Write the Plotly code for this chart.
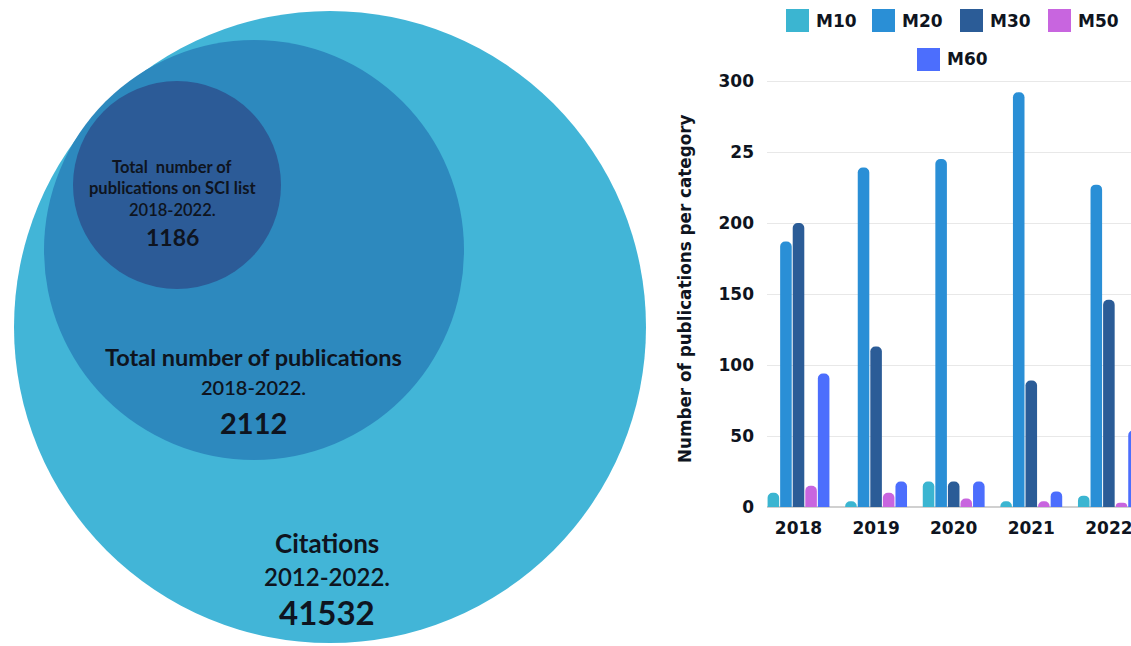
import plotly.graph_objects as go

# ---------------- data ----------------
years = ["2018", "2019", "2020", "2021", "2022"]
series_names = ["M10", "M20", "M30", "M50", "M60"]
m10 = [10, 4, 18, 4, 8]
m20 = [187, 239, 245, 292, 227]
m30 = [200, 113, 18, 89, 146]
m50 = [15, 10, 6, 4, 3]
m60 = [94, 18, 18, 11, 54]
series_values = [m10, m20, m30, m50, m60]
series_colors = ["#3BB5D1", "#2A8FD6", "#2B5C97", "#C865DF", "#4C6EFD"]

y_tickvals = [0, 50, 100, 150, 200, 250, 300]
y_ticktext = ["0", "50", "100", "150", "200", "25", "300"]
y_title = "Number of publications per category"

circle_labels = [
    ["Citations", "2012-2022."],
    ["Total number of publications", "2018-2022."],
    ["Total  number of", "publications on SCI list", "2018-2022."],
]
circle_values = ["41532", "2112", "1186"]
circle_colors = ["#42B5D7", "#2D89BE", "#2C5B97"]

# ---------------- figure ----------------
W, H = 1131, 646
TXT = "#0e1420"


def px(x):
    return x / W


def py(y):
    return 1 - y / H


fig = go.Figure()

for name, vals, col in zip(series_names, series_values, series_colors):
    fig.add_trace(go.Bar(x=years, y=vals, name=name, marker_color=col,
                         marker_line_width=0, showlegend=False,
                         xaxis="x", yaxis="y"))

# invisible trace to hold the circle panel axes
fig.add_trace(go.Scatter(x=[300], y=[300], mode="markers", marker_opacity=0,
                         showlegend=False, hoverinfo="skip",
                         xaxis="x2", yaxis="y2"))

# circles (geometry in pixel units of the left panel)
circle_geom = [(330, 327, 316), (254, 250, 210), (177, 185, 104)]
shapes = []
for (cx, cy, r), col in zip(circle_geom, circle_colors):
    shapes.append(dict(type="circle", xref="x2", yref="y2",
                       x0=cx - r, x1=cx + r, y0=cy - r, y1=cy + r,
                       fillcolor=col, line_width=0, layer="below"))

annotations = []
text_pos = [
    dict(x=327, ys=[543, 576], yn=612, fs=[26, 24], fw=["bold", 600], nfs=33),
    dict(x=253, ys=[357, 387], yn=422, fs=[23.5, 20], fw=["bold", 600], nfs=29),
    dict(x=172, ys=[167, 188, 210], yn=237, fs=[16.5, 16.5, 16.5], fw=["bold", "bold", 600], nfs=23),
]
for lines, val, p in zip(circle_labels, circle_values, text_pos):
    for line, yy, fs, fw in zip(lines, p["ys"], p["fs"], p["fw"]):
        annotations.append(dict(xref="x2", yref="y2", x=p["x"], y=yy, text=line,
                                showarrow=False, xanchor="center", yanchor="middle",
                                font=dict(family="Lato", size=fs, color=TXT, weight=fw)))
    annotations.append(dict(xref="x2", yref="y2", x=p["x"], y=p["yn"], text=val,
                            showarrow=False, xanchor="center", yanchor="middle",
                            font=dict(family="Lato", size=p["nfs"], color=TXT, weight="bold")))

# manual legend (large square swatches)
legend_pos = [(786, 9), (872, 9), (960, 9), (1048, 9), (917, 48)]
sw = 23
for name, col, (lx, ly) in zip(series_names, series_colors, legend_pos):
    shapes.append(dict(type="rect", xref="paper", yref="paper",
                       x0=px(lx), x1=px(lx + sw), y0=py(ly + sw), y1=py(ly),
                       fillcolor=col, line_width=0))
    annotations.append(dict(xref="paper", yref="paper", x=px(lx + sw + 5), y=py(ly + sw / 2),
                            text=name, showarrow=False, xanchor="left", yanchor="middle",
                            font=dict(family="DejaVu Sans", size=17, color=TXT, weight="bold")))

# y-axis title as rotated annotation
annotations.append(dict(xref="paper", yref="paper", x=px(685), y=py(289), text=y_title,
                        textangle=-90, showarrow=False, xanchor="center", yanchor="middle",
                        font=dict(family="DejaVu Sans", size=16.8, color=TXT, weight="bold")))

fig.update_layout(
    width=W, height=H,
    margin=dict(l=0, r=0, t=0, b=0),
    paper_bgcolor="white", plot_bgcolor="rgba(0,0,0,0)",
    barmode="group", bargap=0.19, bargroupgap=0.08, barcornerradius=5,
    showlegend=False,
    xaxis=dict(domain=[px(767), 1.0], range=[-0.406, 4.285], anchor="y",
               showgrid=False, zeroline=False, showline=False, ticks="",
               ticklabelstandoff=9,
               tickfont=dict(family="DejaVu Sans", size=17, color=TXT, weight="bold"),
               automargin=False, fixedrange=True),
    yaxis=dict(domain=[py(507), py(73.9)], range=[0, 305], anchor="x",
               tickvals=y_tickvals, ticktext=y_ticktext,
               showgrid=True, gridcolor="#e8e8e8", gridwidth=1,
               zeroline=True, zerolinecolor="#d0d0d0", zerolinewidth=1.5,
               showline=False, ticks="", ticklabelstandoff=12,
               tickfont=dict(family="DejaVu Sans", size=17, color=TXT, weight="bold"),
               automargin=False, fixedrange=True),
    xaxis2=dict(domain=[0, px(660)], range=[0, 660], anchor="y2", visible=False,
                automargin=False, fixedrange=True),
    yaxis2=dict(domain=[0, 1], range=[H, 0], anchor="x2", visible=False,
                automargin=False, fixedrange=True),
    hovermode=False,
    shapes=shapes,
    annotations=annotations,
)

fig.write_html(
    "out.html",
    config={"displayModeBar": False, "staticPlot": True},
    post_script="document.body.style.margin='0px';document.body.style.overflow='hidden';",
)
